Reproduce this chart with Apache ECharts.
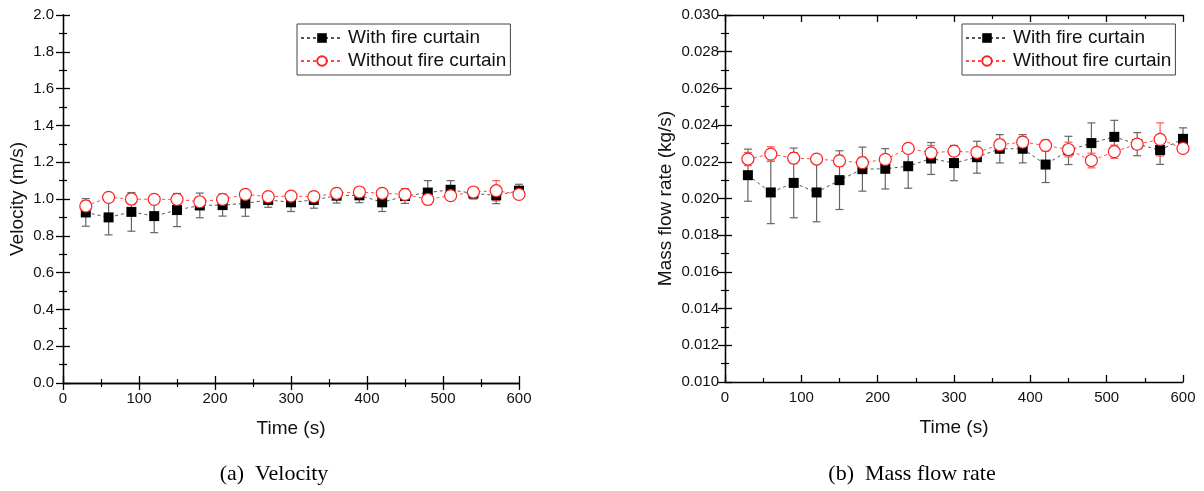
<!DOCTYPE html>
<html>
<head>
    <meta charset="utf-8">
    <title>Velocity and mass flow rate</title>
    <script src="https://cdn.jsdelivr.net/npm/echarts@6/dist/echarts.min.js"></script>
    <style>
        html, body { margin: 0; padding: 0; background: #fff; }
        #chart { width: 1204px; height: 491px; }
    </style>
</head>
<body>
<div id="chart"></div>
<script>
    // time stamps (s)
    var times = [30, 60, 90, 120, 150, 180, 210, 240, 270, 300, 330, 360, 390, 420, 450, 480, 510, 540, 570, 600];

    // (a) velocity, m/s
    var velWith = [0.927, 0.900, 0.930, 0.907, 0.940, 0.965, 0.967, 0.976, 0.995, 0.982, 0.995, 1.018, 1.020, 0.982, 1.016, 1.035, 1.050, 1.030, 1.020, 1.045];
    var velWithErr = [0.075, 0.095, 0.105, 0.090, 0.090, 0.067, 0.060, 0.070, 0.040, 0.050, 0.045, 0.040, 0.040, 0.050, 0.040, 0.065, 0.050, 0.030, 0.045, 0.035];
    var velWithout = [0.962, 1.009, 1.000, 0.998, 0.998, 0.985, 0.998, 1.025, 1.013, 1.016, 1.013, 1.031, 1.038, 1.031, 1.025, 0.998, 1.018, 1.038, 1.045, 1.025];
    var velWithoutErr = [0.030, 0.020, 0.030, 0.020, 0.025, 0.020, 0.025, 0.015, 0.020, 0.020, 0.015, 0.020, 0.015, 0.015, 0.030, 0.020, 0.015, 0.015, 0.055, 0.015];

    // (b) mass flow rate, kg/s
    var mfrWith = [0.02127, 0.02033, 0.02085, 0.02033, 0.02100, 0.02160, 0.02162, 0.02176, 0.02218, 0.02193, 0.02225, 0.02271, 0.02271, 0.02185, 0.02262, 0.02302, 0.02336, 0.02296, 0.02264, 0.02325];
    var mfrWithErr = [0.00142, 0.00170, 0.00190, 0.00160, 0.00160, 0.00120, 0.00110, 0.00120, 0.00087, 0.00096, 0.00087, 0.00077, 0.00077, 0.00098, 0.00077, 0.00110, 0.00090, 0.00063, 0.00078, 0.00060];
    var mfrWithout = [0.02215, 0.02242, 0.02220, 0.02215, 0.02205, 0.02195, 0.02213, 0.02273, 0.02249, 0.02258, 0.02251, 0.02293, 0.02307, 0.02289, 0.02267, 0.02207, 0.02255, 0.02296, 0.02322, 0.02273];
    var mfrWithoutErr = [0.00036, 0.00040, 0.00030, 0.00020, 0.00030, 0.00030, 0.00025, 0.00025, 0.00040, 0.00025, 0.00025, 0.00030, 0.00030, 0.00030, 0.00040, 0.00040, 0.00036, 0.00020, 0.00090, 0.00025];

    var nameWith = 'With fire curtain';
    var nameWithout = 'Without fire curtain';
    var FONT = 'Liberation Sans, Arial, sans-serif';

    function pairs(ys) {
        return times.map(function (t, i) { return [t, ys[i]]; });
    }
    function errRows(ys, es) {
        return times.map(function (t, i) { return [t, ys[i] - es[i], ys[i] + es[i]]; });
    }

    function errorSeries(idx, rows, color) {
        return {
            type: 'custom',
            xAxisIndex: idx, yAxisIndex: idx,
            z: 1, silent: true,
            encode: { x: 0, y: [1, 2] },
            data: rows,
            renderItem: function (params, api) {
                var lo = api.coord([api.value(0), api.value(1)]);
                var hi = api.coord([api.value(0), api.value(2)]);
                var w = 4;
                var st = { stroke: color, lineWidth: 1.2 };
                return {
                    type: 'group',
                    children: [
                        { type: 'line', shape: { x1: lo[0], y1: lo[1], x2: hi[0], y2: hi[1] }, style: st },
                        { type: 'line', shape: { x1: lo[0] - w, y1: lo[1], x2: lo[0] + w, y2: lo[1] }, style: st },
                        { type: 'line', shape: { x1: hi[0] - w, y1: hi[1], x2: hi[0] + w, y2: hi[1] }, style: st }
                    ]
                };
            }
        };
    }

    function withSeries(idx, ys) {
        return {
            name: nameWith, type: 'line',
            xAxisIndex: idx, yAxisIndex: idx, z: 3,
            symbol: 'rect', symbolSize: 10,
            itemStyle: { color: '#000' },
            lineStyle: { color: '#555', width: 1, type: [3, 3] },
            data: pairs(ys)
        };
    }
    function withoutSeries(idx, ys) {
        return {
            name: nameWithout, type: 'line',
            xAxisIndex: idx, yAxisIndex: idx, z: 4,
            symbol: 'circle', symbolSize: 12,
            itemStyle: { color: '#fff', borderColor: '#ff2020', borderWidth: 1.2 },
            lineStyle: { color: '#ff4a4a', width: 1, type: [3, 3] },
            data: pairs(ys)
        };
    }

    var lineCol = { lineStyle: { color: '#000', width: 1.3 } };
    // ticks point into the plot box
    var majorTick = { inside: true, length: 7, lineStyle: { color: '#000', width: 1.3 } };
    var minorTick = { show: true, splitNumber: 2, length: 4, lineStyle: { color: '#000', width: 1.2 } };

    function xAxes(grid) {
        return [{
            gridIndex: grid, type: 'value', position: 'bottom',
            min: 0, max: 600, interval: 100,
            name: 'Time (s)', nameLocation: 'middle', nameGap: 36,
            nameTextStyle: { fontFamily: FONT, fontSize: 19, color: '#111' },
            axisLine: lineCol,
            axisTick: majorTick,
            minorTick: minorTick,
            axisLabel: { fontFamily: FONT, fontSize: 15, color: '#111', margin: 8 },
            splitLine: { show: false }
        }, {
            gridIndex: grid, type: 'value', position: 'top',
            min: 0, max: 600, interval: 100,
            axisLine: lineCol,
            axisTick: majorTick,
            minorTick: minorTick,
            axisLabel: { show: false },
            splitLine: { show: false }
        }];
    }

    function yAxes(grid, min, max, step, digits, name, gap, margin) {
        return [{
            gridIndex: grid, type: 'value', position: 'left',
            min: min, max: max, interval: step,
            name: name, nameLocation: 'middle', nameGap: gap,
            nameTextStyle: { fontFamily: FONT, fontSize: 19, color: '#111' },
            axisLine: lineCol,
            axisTick: majorTick,
            minorTick: minorTick,
            axisLabel: {
                fontFamily: FONT, fontSize: 15, color: '#111', margin: margin,
                formatter: function (v) { return v.toFixed(digits); }
            },
            splitLine: { show: false }
        }, {
            gridIndex: grid, type: 'value', position: 'right',
            min: min, max: max, interval: step,
            axisLine: lineCol,
            axisTick: majorTick,
            minorTick: minorTick,
            axisLabel: { show: false },
            splitLine: { show: false }
        }];
    }

    function legendAt(left) {
        return {
            orient: 'vertical', left: left, top: 24,
            data: [nameWith, nameWithout],
            itemWidth: 42, itemHeight: 12, itemGap: 3,
            padding: [4, 4, 4, 3],
            borderColor: '#444', borderWidth: 1,
            textStyle: { fontFamily: FONT, fontSize: 19, color: '#111', lineHeight: 20 }
        };
    }

    var xa = xAxes(0).concat(xAxes(1));
    var ya = yAxes(0, 0, 2, 0.2, 1, 'Velocity (m/s)', 36, 9)
        .concat(yAxes(1, 0.010, 0.030, 0.002, 3, 'Mass flow rate (kg/s)', 50, 6));

    var option = {
        animation: false,
        backgroundColor: '#fff',
        grid: [
            { left: 63, top: 15, width: 456, height: 368 },
            { left: 725, top: 15, width: 458, height: 367 }
        ],
        xAxis: xa,
        yAxis: ya,
        legend: [legendAt(297), legendAt(962)],
        graphic: [
            { type: 'text', x: 274, y: 474, style: { text: '(a)  Velocity', font: '22px "Liberation Serif", "Times New Roman", serif', fill: '#000', align: 'center', verticalAlign: 'middle' } },
            { type: 'text', x: 912, y: 474, style: { text: '(b)  Mass flow rate', font: '22px "Liberation Serif", "Times New Roman", serif', fill: '#000', align: 'center', verticalAlign: 'middle' } }
        ],
        series: [
            errorSeries(0, errRows(velWith, velWithErr), '#666'),
            errorSeries(0, errRows(velWithout, velWithoutErr), '#ff5a5a'),
            withSeries(0, velWith),
            withoutSeries(0, velWithout),
            errorSeries(2, errRows(mfrWith, mfrWithErr), '#666'),
            errorSeries(2, errRows(mfrWithout, mfrWithoutErr), '#ff5a5a'),
            withSeries(2, mfrWith),
            withoutSeries(2, mfrWithout)
        ]
    };

    var myChart = echarts.init(document.getElementById('chart'), null, { renderer: 'canvas' });
    myChart.setOption(option);
</script>
</body>
</html>
